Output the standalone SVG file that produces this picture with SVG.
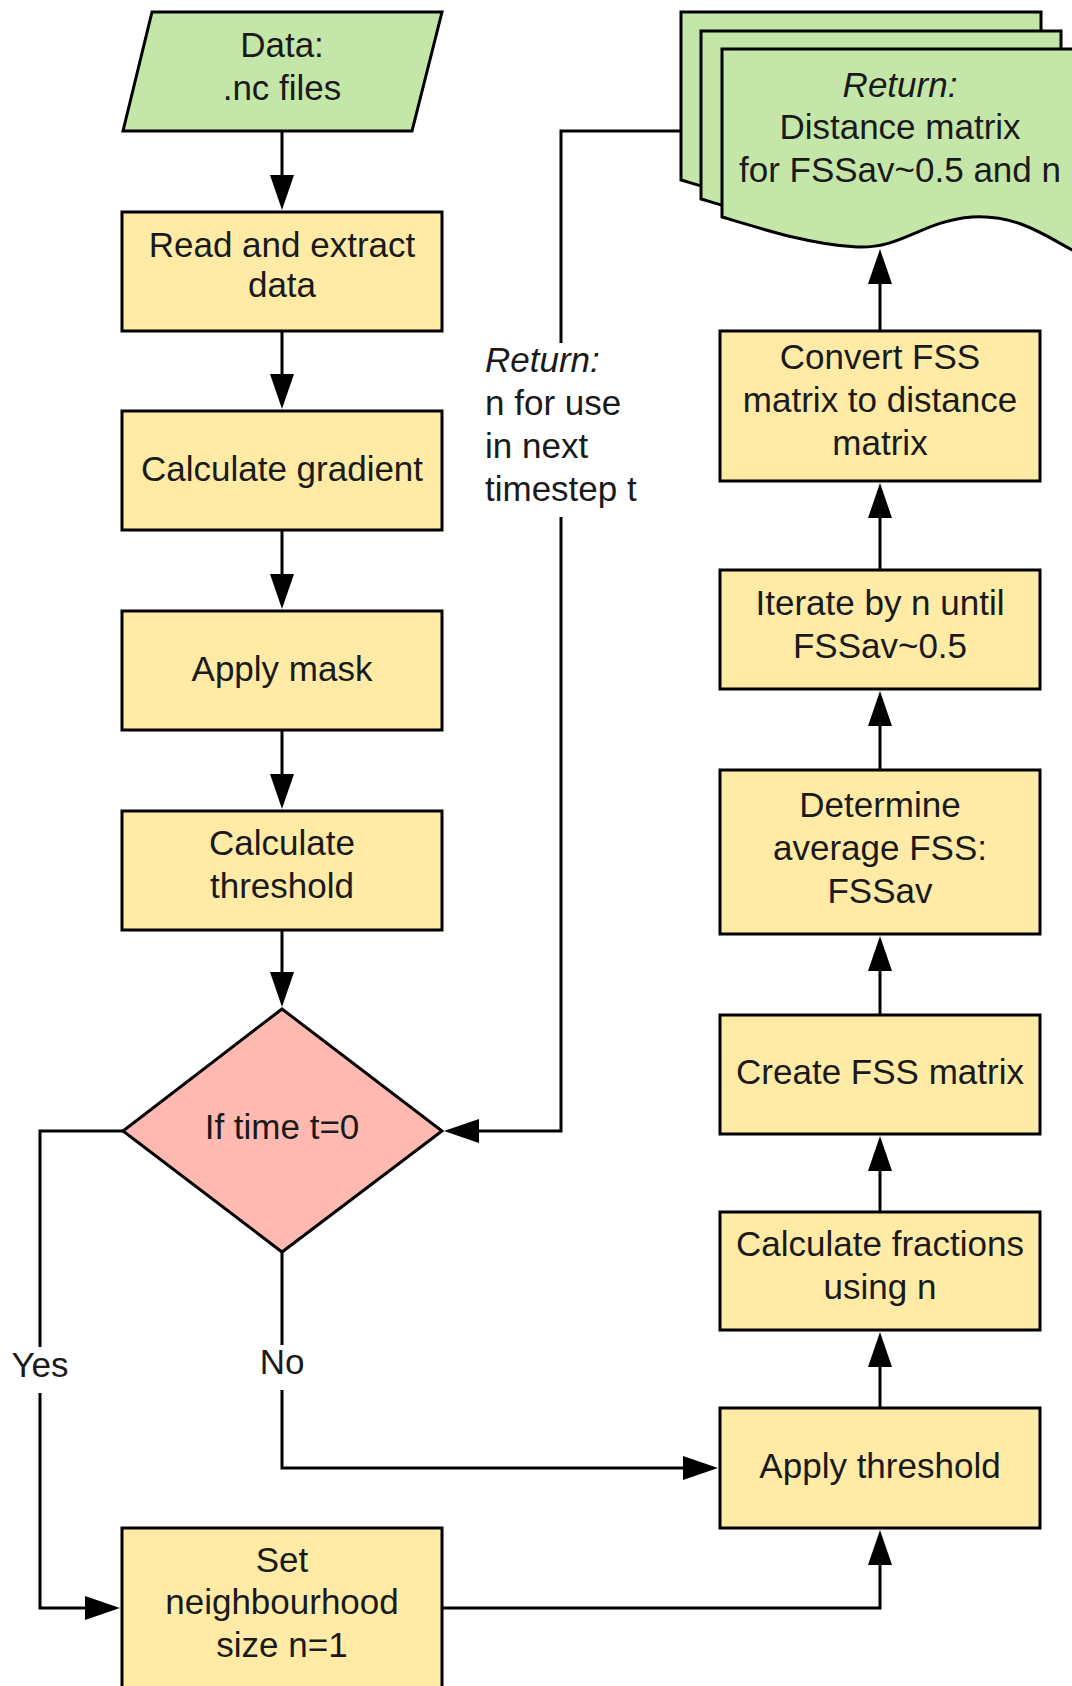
<svg xmlns="http://www.w3.org/2000/svg" width="1072" height="1686" viewBox="0 0 1072 1686">
<style>
.box{fill:#ffeaa6;stroke:#000;stroke-width:3}
.green{fill:#c5e6a9;stroke:#000;stroke-width:3}
.dec{fill:#ffb9b0;stroke:#000;stroke-width:3}
.t{font-family:"Liberation Sans",Arial,sans-serif;font-size:35px;fill:#1a1a1a;text-anchor:middle}
.tl{font-family:"Liberation Sans",Arial,sans-serif;font-size:35px;fill:#1a1a1a}
.i{font-style:italic}
.c{fill:none;stroke:#000;stroke-width:3}
</style>
<defs>
<marker id="arr" markerUnits="userSpaceOnUse" markerWidth="36" markerHeight="26" refX="25" refY="12" orient="auto">
<path d="M0,0 L35,12 L0,24 z" fill="#000"/>
</marker>
<path id="sheet" d="M0,0 H360 V206 C330,192 300,165 250,168 C200,172 180,200 135,198 C90,196 40,180 0,168 Z"/>
</defs>

<g id="connectors">
<path class="c" d="M282,131 V200" marker-end="url(#arr)"/>
<path class="c" d="M282,331 V399" marker-end="url(#arr)"/>
<path class="c" d="M282,530 V599" marker-end="url(#arr)"/>
<path class="c" d="M282,730 V799" marker-end="url(#arr)"/>
<path class="c" d="M282,930 V997" marker-end="url(#arr)"/>
<path class="c" d="M123,1131 H40 V1347"/>
<path class="c" d="M40,1393 V1608 H110" marker-end="url(#arr)"/>
<path class="c" d="M282,1252 V1345"/>
<path class="c" d="M282,1390 V1468 H708" marker-end="url(#arr)"/>
<path class="c" d="M443,1608 H880 V1540" marker-end="url(#arr)"/>
<path class="c" d="M880,1408 V1342" marker-end="url(#arr)"/>
<path class="c" d="M880,1212 V1146" marker-end="url(#arr)"/>
<path class="c" d="M880,1015 V946" marker-end="url(#arr)"/>
<path class="c" d="M880,770 V701" marker-end="url(#arr)"/>
<path class="c" d="M880,570 V493" marker-end="url(#arr)"/>
<path class="c" d="M880,331 V259" marker-end="url(#arr)"/>
<path class="c" d="M681,131 H561 V343"/>
<path class="c" d="M561,517 V1131 H454" marker-end="url(#arr)"/>
<text class="t" x="40" y="1377">Yes</text>
<text class="t" x="282" y="1374">No</text>
<text class="tl" x="485" y="372"><tspan class="i">Return:</tspan><tspan x="485" y="415">n for use</tspan><tspan x="485" y="458">in next</tspan><tspan x="485" y="501">timestep t</tspan></text>
</g>

<g id="data">
<polygon class="green" points="152,12 442,12 412,131 123,131"/>
<text class="t" x="282" y="57">Data:</text>
<text class="t" x="282" y="100">.nc files</text>
</g>
<g id="read">
<rect class="box" x="122" y="212" width="320" height="119"/>
<text class="t" x="282" y="257">Read and extract</text>
<text class="t" x="282" y="297">data</text>
</g>
<g id="gradient">
<rect class="box" x="122" y="411" width="320" height="119"/>
<text class="t" x="282" y="481">Calculate gradient</text>
</g>
<g id="mask">
<rect class="box" x="122" y="611" width="320" height="119"/>
<text class="t" x="282" y="681">Apply mask</text>
</g>
<g id="calcthreshold">
<rect class="box" x="122" y="811" width="320" height="119"/>
<text class="t" x="282" y="855">Calculate</text>
<text class="t" x="282" y="898">threshold</text>
</g>
<g id="decision">
<polygon class="dec" points="282,1009 442,1131 282,1252 123,1131"/>
<text class="t" x="282" y="1139">If time t=0</text>
</g>
<g id="setn">
<rect class="box" x="122" y="1528" width="320" height="170"/>
<text class="t" x="282" y="1572">Set</text>
<text class="t" x="282" y="1614">neighbourhood</text>
<text class="t" x="282" y="1657">size n=1</text>
</g>
<g id="applythreshold">
<rect class="box" x="720" y="1408" width="320" height="120"/>
<text class="t" x="880" y="1478">Apply threshold</text>
</g>
<g id="fractions">
<rect class="box" x="720" y="1212" width="320" height="118"/>
<text class="t" x="880" y="1256">Calculate fractions</text>
<text class="t" x="880" y="1299">using n</text>
</g>
<g id="fssmatrix">
<rect class="box" x="720" y="1015" width="320" height="119"/>
<text class="t" x="880" y="1084">Create FSS matrix</text>
</g>
<g id="average">
<rect class="box" x="720" y="770" width="320" height="164"/>
<text class="t" x="880" y="817">Determine</text>
<text class="t" x="880" y="860">average FSS:</text>
<text class="t" x="880" y="903">FSSav</text>
</g>
<g id="iterate">
<rect class="box" x="720" y="570" width="320" height="119"/>
<text class="t" x="880" y="615">Iterate by n until</text>
<text class="t" x="880" y="658">FSSav~0.5</text>
</g>
<g id="convert">
<rect class="box" x="720" y="331" width="320" height="150"/>
<text class="t" x="880" y="369">Convert FSS</text>
<text class="t" x="880" y="412">matrix to distance</text>
<text class="t" x="880" y="455">matrix</text>
</g>
<g id="output">
<use href="#sheet" class="green" x="681" y="12"/>
<use href="#sheet" class="green" x="701" y="31"/>
<use href="#sheet" class="green" x="722" y="49"/>
<text class="t i" x="900" y="97">Return:</text>
<text class="t" x="900" y="139">Distance matrix</text>
<text class="t" x="900" y="182">for FSSav~0.5 and n</text>
</g>
</svg>
